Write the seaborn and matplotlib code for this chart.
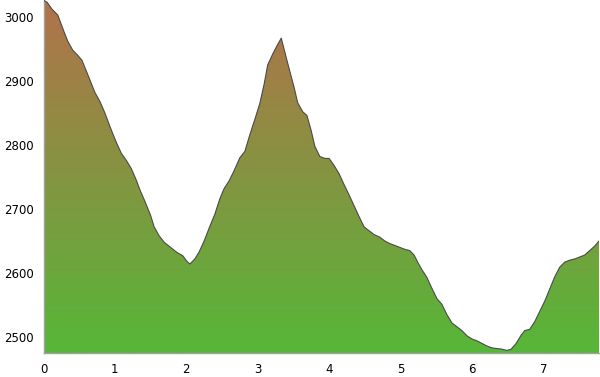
import numpy as np
import pandas as pd
import matplotlib
matplotlib.use("Agg")
import matplotlib.pyplot as plt
import seaborn as sns
from matplotlib.colors import LinearSegmentedColormap

distance_km = [0.00, 0.05, 0.12, 0.20, 0.27, 0.34, 0.41, 0.48, 0.54, 0.62, 0.72, 0.79, 0.86, 0.93,
               1.02, 1.09, 1.16, 1.23, 1.30, 1.35, 1.42, 1.50, 1.55, 1.62, 1.69, 1.78, 1.87, 1.95,
               2.01, 2.05, 2.12, 2.18, 2.25, 2.33, 2.40, 2.47, 2.53, 2.60, 2.67, 2.75, 2.82, 2.89,
               2.96, 3.03, 3.09, 3.14, 3.21, 3.27, 3.33, 3.38, 3.45, 3.51, 3.56, 3.63, 3.69, 3.75,
               3.80, 3.87, 3.94, 4.00, 4.07, 4.14, 4.21, 4.28, 4.35, 4.42, 4.49, 4.56, 4.63, 4.71,
               4.78, 4.85, 4.92, 4.99, 5.06, 5.13, 5.19, 5.25, 5.30, 5.37, 5.44, 5.51, 5.58, 5.65,
               5.72, 5.79, 5.86, 5.93, 6.00, 6.07, 6.14, 6.21, 6.28, 6.35, 6.42, 6.49, 6.55, 6.62,
               6.69, 6.74, 6.81, 6.88, 6.95, 7.02, 7.09, 7.16, 7.23, 7.30, 7.37, 7.44, 7.51, 7.58,
               7.65, 7.72, 7.78]
elevation_m = [3026, 3023, 3012, 3003, 2982, 2962, 2948, 2940, 2932, 2910, 2882, 2868, 2850, 2829,
               2804, 2787, 2776, 2763, 2745, 2730, 2712, 2690, 2672, 2658, 2648, 2640, 2632, 2627,
               2618, 2614, 2622, 2633, 2650, 2673, 2692, 2716, 2732, 2744, 2760, 2780, 2790, 2816,
               2840, 2865, 2895, 2925, 2942, 2955, 2967, 2945, 2915, 2890, 2866, 2852, 2846, 2822,
               2798, 2782, 2779, 2779, 2768, 2755, 2738, 2722, 2705, 2688, 2672, 2666, 2660, 2656,
               2650, 2646, 2643, 2640, 2637, 2635, 2628, 2615, 2605, 2593, 2576, 2560, 2551, 2535,
               2522, 2516, 2510, 2502, 2497, 2494, 2490, 2486, 2483, 2482, 2481, 2479, 2481, 2490,
               2503, 2510, 2512, 2524, 2540, 2556, 2575, 2594, 2609, 2617, 2620, 2622, 2625, 2628,
               2635, 2642, 2650]
x_ticks = [0, 1, 2, 3, 4, 5, 6, 7]
y_ticks = [2500, 2600, 2700, 2800, 2900, 3000]

df = pd.DataFrame({"distance": distance_km, "elevation": elevation_m})

sns.set_style("white")
plt.rcParams["font.family"] = ["DejaVu Sans"]

fig = plt.figure(figsize=(6.0, 3.77), dpi=100)
ax = fig.add_axes([43.5 / 600, 24 / 377, (599 - 43.5) / 600, 353 / 377])

xmin, xmax = 0, 7.78
ymin, ymax = 2475, 3026.5
ax.set_xlim(xmin, xmax)
ax.set_ylim(ymin, ymax)

poly = ax.fill_between(df["distance"], df["elevation"], ymin, color="none", lw=0)
cmap = LinearSegmentedColormap.from_list("elev", [(86 / 255, 183 / 255, 56 / 255),
                                                   (178 / 255, 114 / 255, 74 / 255)])
grad = np.linspace(0, 1, 256).reshape(-1, 1)
img = ax.imshow(grad, cmap=cmap, origin="lower", aspect="auto",
                extent=[xmin, xmax, ymin, max(elevation_m)], zorder=1)
path = poly.get_paths()[0]
img.set_clip_path(path, transform=ax.transData)

sns.lineplot(data=df, x="distance", y="elevation", ax=ax, color="#4a4a4a", lw=0.8, zorder=3)

ax.set_xticks(x_ticks)
ax.set_yticks(y_ticks)
ax.set_xlabel("")
ax.set_ylabel("")
for s in ["top", "right"]:
    ax.spines[s].set_visible(False)
for s in ["left", "bottom"]:
    ax.spines[s].set_color("#a0a0a0")
    ax.spines[s].set_linewidth(1.0)
ax.tick_params(axis="both", which="major", length=5.5, width=1.0, color="#b0b0b0",
               labelsize=8.5, labelcolor="black", direction="out")
ax.tick_params(axis="y", pad=1.5)
ax.tick_params(axis="x", pad=1.5)

fig.savefig("out.png", dpi=100)
